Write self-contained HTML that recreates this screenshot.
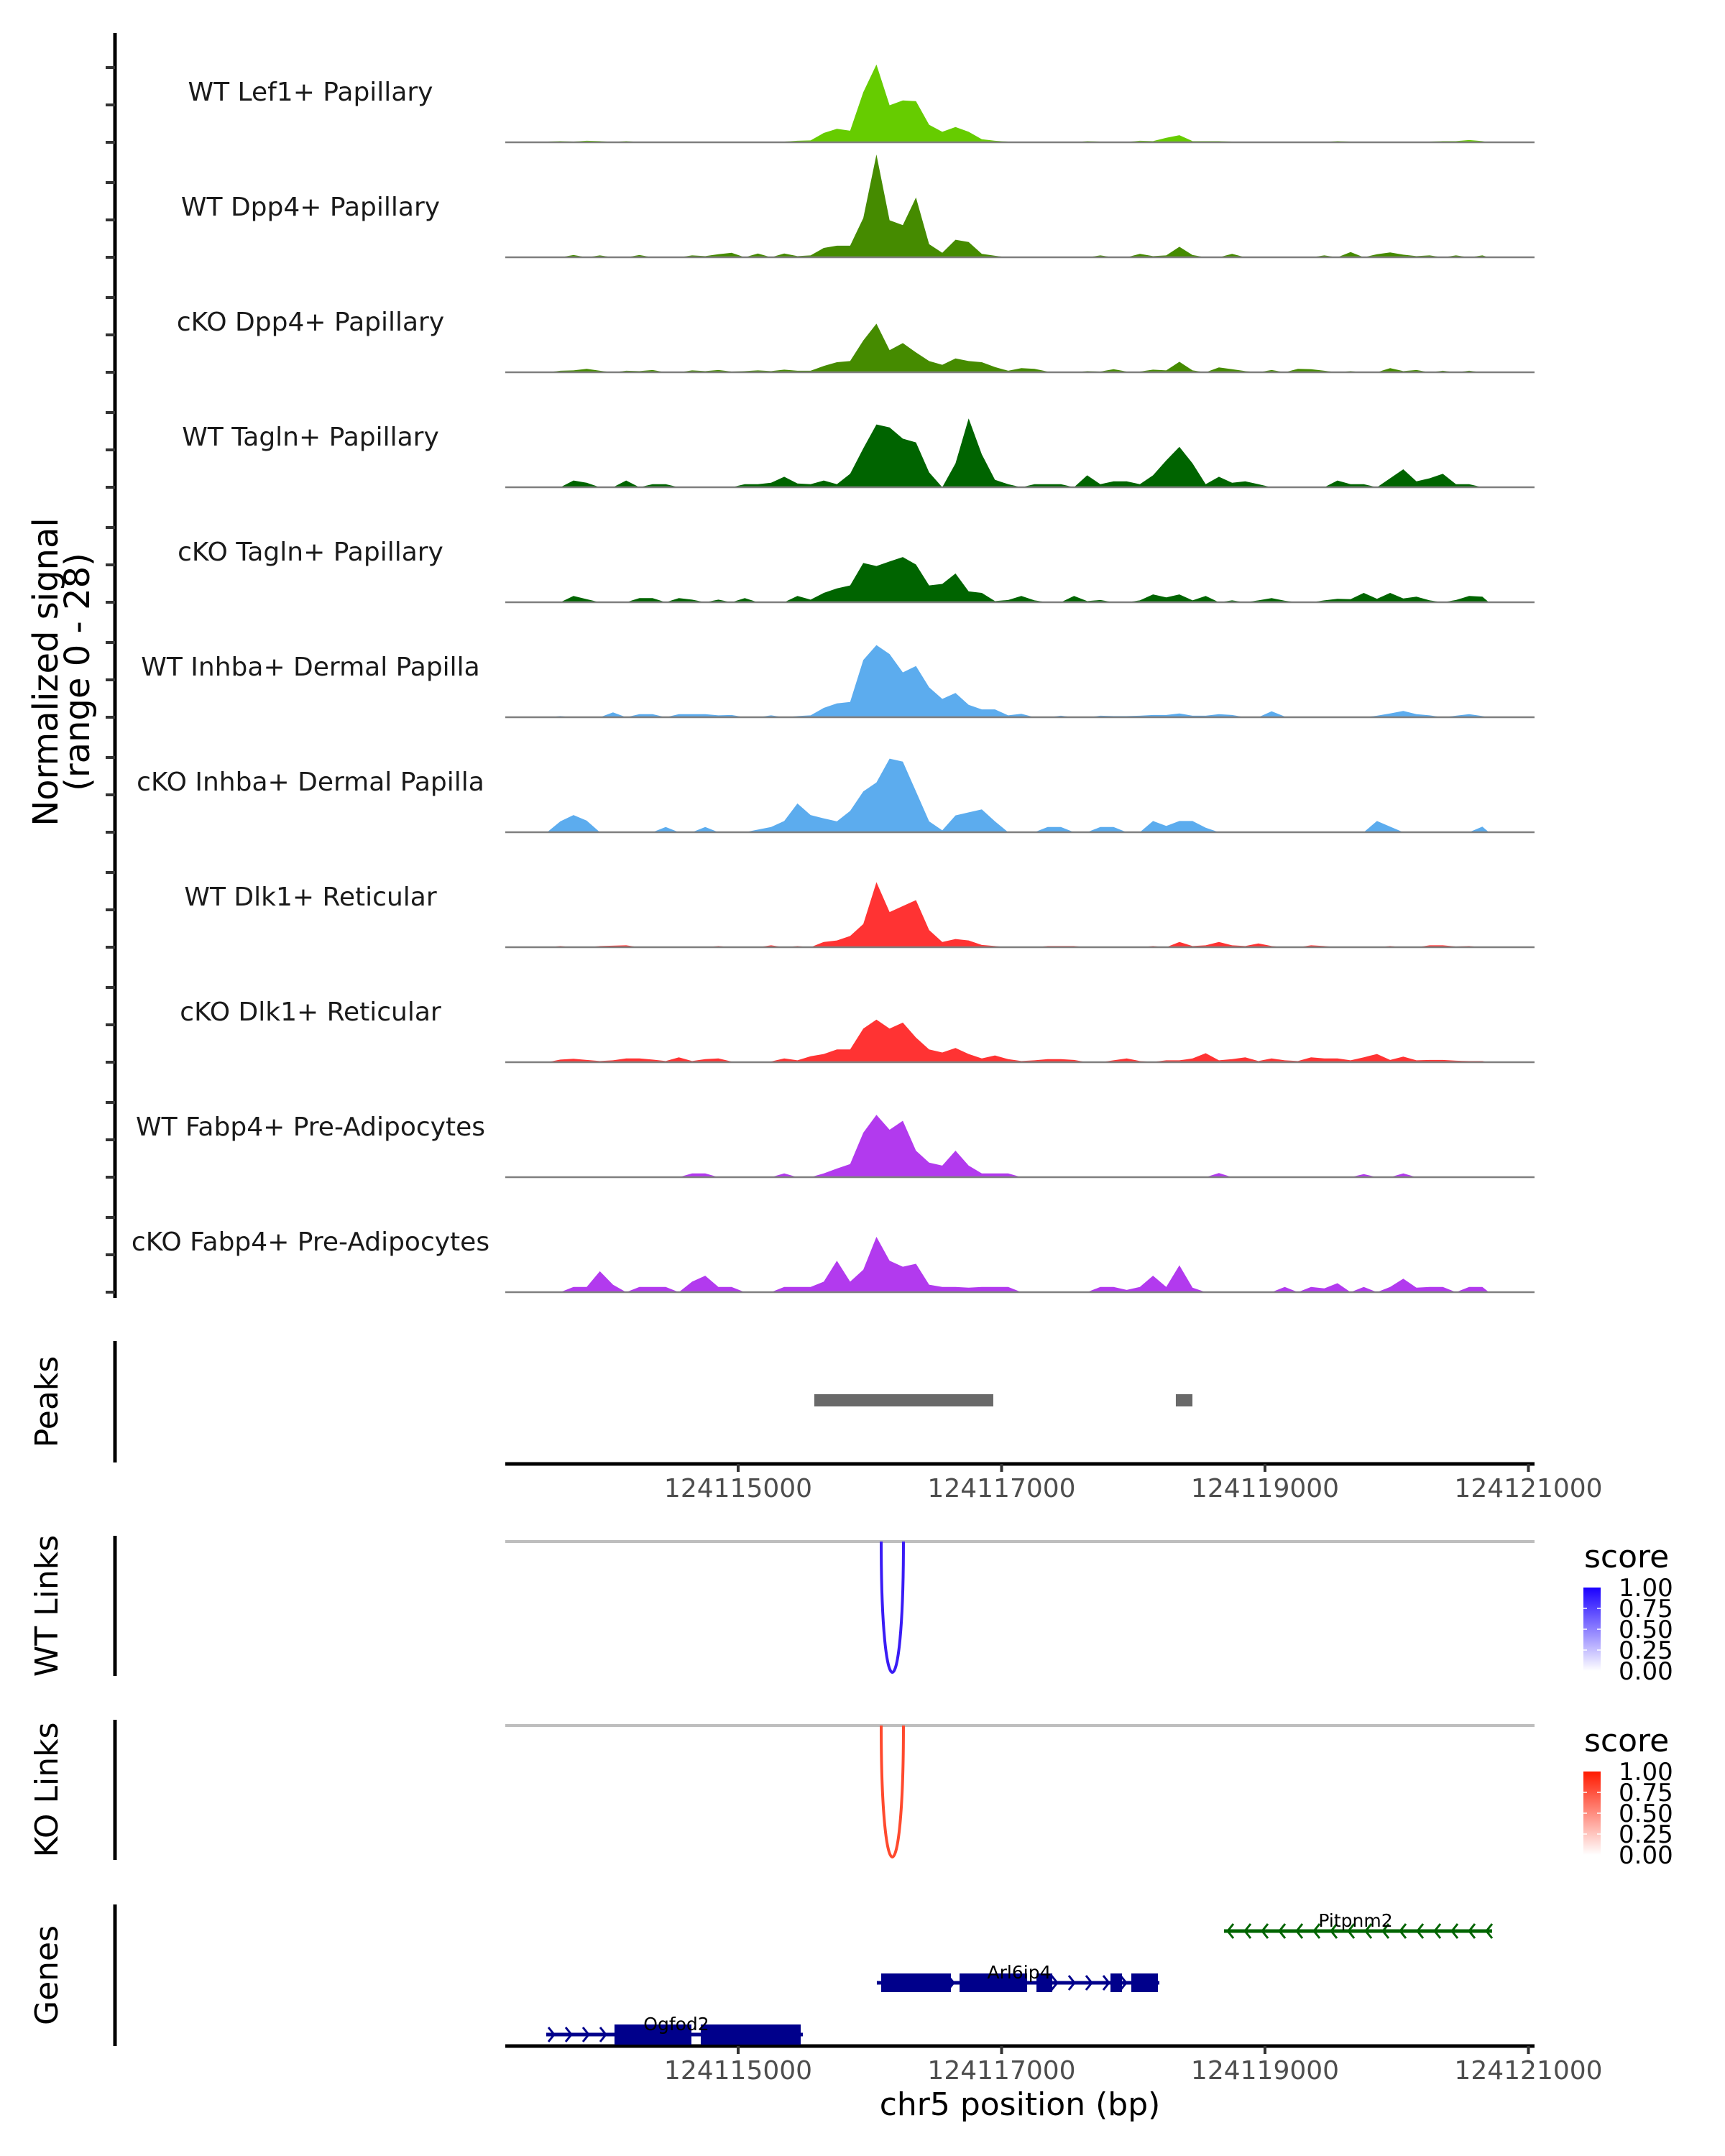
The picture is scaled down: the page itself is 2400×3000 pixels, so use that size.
<!DOCTYPE html>
<html><head><meta charset="utf-8">
<style>
html,body{margin:0;padding:0;background:#fff;}
svg{display:block;font-family:"DejaVu Sans","Liberation Sans",sans-serif;}
</style></head>
<body>
<svg id="chart" width="2400" height="3000" viewBox="0 0 2400 3000" xmlns="http://www.w3.org/2000/svg">
<defs>
<linearGradient id="gradBlue" x1="0" y1="1" x2="0" y2="0"><stop offset="0" stop-color="#ffffff"/><stop offset="1" stop-color="#1a00ff"/></linearGradient>
<linearGradient id="gradRed" x1="0" y1="1" x2="0" y2="0"><stop offset="0" stop-color="#ffffff"/><stop offset="1" stop-color="#ff1a00"/></linearGradient>
</defs>
<g id="tracks"></g>
<g id="other"></g>
</svg>
<script>
// ---- data ----
const binStart = 124113350; // first bin center (bp)
const binStep = 100;
const trackNames = ["WT Lef1+ Papillary","WT Dpp4+ Papillary","cKO Dpp4+ Papillary","WT Tagln+ Papillary","cKO Tagln+ Papillary","WT Inhba+ Dermal Papilla","cKO Inhba+ Dermal Papilla","WT Dlk1+ Reticular","cKO Dlk1+ Reticular","WT Fabp4+ Pre-Adipocytes","cKO Fabp4+ Pre-Adipocytes"];
const trackColors = ["#66cc00","#458b00","#458b00","#006400","#006400","#5cacee","#5cacee","#ff3333","#ff3333","#b23aee","#b23aee"];
const sigLef1WT = [0,0,0.2,0.3,0.2,0.4,0.3,0.1,0.3,0.1, 0.2,0,0,0.1,0.2,0.1,0.1,0.2,0.1,0.1, 0.2,0.4,0.5,2.5,3.6,3.1,13.4,20.8,9.9,11.2, 11,4.7,2.8,4.1,2.8,0.8,0.4,0.2,0.2,0, 0,0.1,0,0.3,0.2,0,0.1,0.4,0.3,1.2, 1.9,0.3,0.3,0.3,0.2,0.2,0.1,0.2,0,0.2, 0.2,0.1,0.3,0.2,0,0.1,0,0.2,0.2,0.2, 0.3,0.3,0.6,0.3];
const sigDpp4WT = [0,0,0,0,0.6,0,0.5,0,0,0.6, 0,0,0,0.5,0.3,0.8,1.2,0,1.0,0, 1.0,0.3,0.5,2.5,3.1,3.1,10.5,27.5,9.9,8.6, 16,3.5,1.2,4.7,4.1,0.9,0.4,0,0,0, 0,0,0,0,0.5,0,0,0.9,0.3,0.5, 2.8,0.6,0,0,0.9,0,0,0,0,0, 0,0.5,0,1.4,0,0.8,1.3,0.7,0.3,0.5, 0,0.5,0,0.5];
const sigDpp4KO = [0,0,0,0.4,0.5,0.9,0.4,0,0.4,0.3, 0.6,0,0,0.5,0.3,0.6,0.2,0.3,0.5,0.3, 0.7,0.4,0.4,1.7,2.7,3,8.5,13,5.9,7.8, 5.3,3,2,3.7,3,2.7,1.4,0.4,1.1,0.9, 0.2,0.2,0,0.3,0.2,0.8,0.2,0.2,0.7,0.5, 2.8,0.5,0,1.3,0.8,0.3,0,0.6,0,0.9, 0.8,0.4,0,0.3,0,0,1.1,0.3,0.6,0, 0.4,0,0.4,0];
const sigTaglnWT = [0,0,0,0,1.8,1.2,0,0,1.8,0, 0.8,0.8,0,0,0,0,0,0.8,0.8,1.2, 2.8,1.0,0.8,1.8,0.8,3.6,10.4,16.8,16,13, 12,4,0,6.4,18.4,8.8,2,0.8,0,0.8, 0.8,0.8,0,3.2,0.8,1.6,1.6,0.8,3.2,7.2, 10.8,6.4,0.8,2.8,1.2,1.6,0.8,0,0,0, 0,0,1.8,0.8,0.8,0,2.4,4.8,1.6,2.4, 3.6,0.8,0.8,0];
const sigTaglnKO = [0,0,0,0,1.7,0.8,0,0,0,1.1, 1.1,0,1.1,0.7,0,0.7,0,1.1,0,0, 0,1.7,0.7,2.5,3.7,4.5,10.5,9.7,10.9,12.1, 10.1,4.5,4.9,7.7,2.9,2.5,0.3,0.6,1.7,0.5, 0,0,1.7,0.3,0.6,0,0,0.5,2.1,1.3, 2.1,0.5,1.7,0,0.5,0,0.5,1.1,0.4,0, 0,0.5,0.9,0.8,2.5,0.9,2.5,1.0,1.5,0.5, 0,0.6,1.7,1.5];
const sigInhbaWT = [0,0,0,0.3,0,0,0,1.3,0,0.8, 0.8,0,0.8,0.8,0.8,0.5,0.6,0,0,0.5, 0,0.3,0.5,2.5,3.7,4.1,15.3,19.3,16.9,12, 13.7,8,4.9,6.5,3.3,2.1,2.1,0.5,0.9,0, 0,0.4,0,0,0.4,0.3,0.3,0.4,0.6,0.6, 1.0,0.4,0.4,0.8,0.6,0,0,1.6,0.2,0, 0,0,0,0,0,0.4,1.0,1.7,0.8,0.5, 0,0.4,0.8,0.3];
const sigInhbaKO = [0,0,0,2.9,4.6,3.1,0,0,0,0, 0,1.4,0,0,1.4,0,0,0,0.7,1.4, 3,7.7,4.6,3.7,2.9,5.7,10.9,13.3,19.7,18.9, 10.9,2.9,0.5,4.5,5.3,6.1,2.9,0,0,0, 1.4,1.4,0,0,1.4,1.4,0,0,3,1.7, 3,3,1.2,0,0,0,0,0,0,0, 0,0,0,0,0,3,1.5,0,0,0, 0,0,0,1.5];
const sigDlk1WT = [0,0,0,0.3,0,0,0.3,0.4,0.5,0, 0,0,0,0,0,0.3,0,0,0,0.5, 0,0.3,0,1.4,1.8,3,6.2,17.4,9.4,11, 12.6,4.6,1.4,2.2,1.8,0.6,0.3,0,0,0, 0.3,0.3,0.3,0,0,0,0,0,0.3,0, 1.4,0.3,0.5,1.4,0.5,0.3,1.0,0.3,0,0, 0.5,0.3,0,0,0,0,0.3,0,0,0.5, 0.5,0.2,0.3,0];
const sigDlk1KO = [0,0,0,0.7,0.9,0.6,0.3,0.5,1.0,1.0, 0.7,0.3,1.3,0.3,0.8,1.0,0.2,0.2,0.1,0.2, 1.0,0.5,1.6,2.2,3.4,3.4,9,11.4,9,10.6, 6.6,3.4,2.6,3.8,2.2,1,1.8,0.8,0.3,0.5, 0.8,0.8,0.6,0,0,0.5,1.0,0.3,0.1,0.5, 0.5,1.0,2.4,0.5,0.8,1.3,0.3,1.0,0.5,0.3, 1.3,1.0,1.0,0.5,1.3,2.2,0.6,1.5,0.5,0.6, 0.6,0.4,0.3,0.3];
const sigFabp4WT = [0,0,0,0,0,0,0,0,0,0, 0,0,0,1.0,1.0,0,0,0,0,0, 1.0,0,0,1.0,2.3,3.5,11.9,16.7,12.7,15.1, 7.1,3.9,3.1,7.1,3.1,1,1,1,0,0, 0,0,0,0,0,0,0,0,0,0, 0,0,0,1.1,0,0,0,0,0,0, 0,0,0,0,0.8,0,0,1.0,0,0, 0,0,0,0];
const sigFabp4KO = [0,0,0,0,1.4,1.4,5.6,2.0,0,1.4, 1.4,1.4,0,2.8,4.4,1.4,1.4,0,0,0, 1.4,1.4,1.4,2.8,8.4,2.8,6,14.8,8.4,6.8, 7.6,2,1.4,1.4,1.2,1.4,1.4,1.4,0,0, 0,0,0,0,1.4,1.4,0.6,1.4,4.4,1.4, 7.2,1.2,0,0,0,0,0,0,1.4,0, 1.4,1.0,2.4,0,1.4,0,1.4,3.6,1.2,1.4, 1.4,0,1.4,1.4];
const allSignals = [sigLef1WT,sigDpp4WT,sigDpp4KO,sigTaglnWT,sigTaglnKO,sigInhbaWT,sigInhbaKO,sigDlk1WT,sigDlk1KO,sigFabp4WT,sigFabp4KO];
const yTicks = [0,10,20];
const xTicks = [124115000,124117000,124119000,124121000];
const peakStarts = [124115578,124118323];
const peakEnds = [124116937,124118449];
const linkStarts = [124116086];
const linkEnds = [124116255];
const legendTicks = ["1.00","0.75","0.50","0.25","0.00"];
const geneNames = ["Ogfod2","Arl6ip4","Pitpnm2"];
const geneStarts = [124113543,124116053,124118689];
const geneEnds = [124115491,124118198,124120724];
const geneStrands = ["+","+","-"];
const geneExons = [[[124114061,124114645],[124114716,124115475]],[[124116086,124116615],[124116681,124117194],[124117265,124117385],[124117827,124117914],[124117985,124118187]],[]];

// ---- scales ----
const X0=703, X1=2135;
function xs(bp){return 1027+(bp-124115000)*0.18325;}
const PX_PER_UNIT=5.2;
function baseY(i){return 198+160*i;}
function ys(i,v){return baseY(i)-v*PX_PER_UNIT;}

const NS="http://www.w3.org/2000/svg";
function mk(tag,attrs,parent,text){const e=document.createElementNS(NS,tag);for(const k in attrs)e.setAttribute(k,attrs[k]);if(text!==undefined)e.textContent=text;parent.appendChild(e);return e;}
const T=document.getElementById('tracks');
const O=document.getElementById('other');

// signal tracks
allSignals.forEach((vals,i)=>{
  const b=baseY(i);
  const ax=mk('line',{x1:160,x2:160,y1:b-152,y2:b+8,stroke:'#000','stroke-width':5},T);
  
  
  yTicks.forEach(t=>{
    const tk=mk('line',{x1:147,x2:160,y1:ys(i,t),y2:ys(i,t),stroke:'#333','stroke-width':4},T);
    
    
  });
  let d='M'+xs(binStart-binStep/2)+','+b;
  vals.forEach((v,k)=>{d+=' L'+xs(binStart+k*binStep).toFixed(1)+','+ys(i,v).toFixed(1);});
  d+=' L'+xs(binStart+(vals.length-0.5)*binStep)+','+b+' Z';
  const p=mk('path',{d:d,fill:trackColors[i]},T);
  
  
  const bl=mk('line',{x1:X0,x2:X1,y1:b,y2:b,stroke:'#7f7f7f','stroke-width':2.5},T);
  
  
  const lb=mk('text',{x:432,y:b-58,'text-anchor':'middle','font-size':36,fill:'#1a1a1a'},T,trackNames[i]);
  
  
});

// y title
const yt=mk('text',{transform:'translate(80,935) rotate(-90)','text-anchor':'middle','font-size':48,fill:'#000'},O,'Normalized signal');


const yt2=mk('text',{transform:'translate(124,935) rotate(-90)','text-anchor':'middle','font-size':48,fill:'#000'},O,'(range 0 - 28)');



// side panels
function sidePanel(label,y1,y2,name){
  const l=mk('line',{x1:160,x2:160,y1:y1,y2:y2,stroke:'#000','stroke-width':5},O);
  
  
  const t=mk('text',{transform:'translate(80,'+((y1+y2)/2)+') rotate(-90)','text-anchor':'middle','font-size':44,fill:'#000'},O,label);
  
  
}
sidePanel('Peaks',1866,2035,'peaks');
sidePanel('WT Links',2137,2332,'wt-links');
sidePanel('KO Links',2393,2588,'ko-links');
sidePanel('Genes',2650,2847,'genes');

// peaks
peakStarts.forEach((s,i)=>{
  const r=mk('rect',{x:xs(s),y:1940,width:xs(peakEnds[i])-xs(s),height:17,fill:'#696969'},O);
  
  
});

// x axes
function xAxis(y,name){
  const l=mk('line',{x1:X0,x2:X1,y1:y,y2:y,stroke:'#000','stroke-width':5},O);
  
  
  xTicks.forEach(t=>{
    const tk=mk('line',{x1:xs(t),x2:xs(t),y1:y,y2:y+11,stroke:'#333','stroke-width':4},O);
    
    
    const tl=mk('text',{x:xs(t),y:y+46,'text-anchor':'middle','font-size':36,fill:'#4d4d4d'},O,String(t));
    
    
  });
}
xAxis(2037,'peaks-x-axis');
xAxis(2847,'x-axis');
const xt=mk('text',{x:1419,y:2943,'text-anchor':'middle','font-size':44,fill:'#000'},O,'chr5 position (bp)');



// links
function linkPanel(lineY,bottomY,color,name){
  const g=mk('line',{x1:X0,x2:X1,y1:lineY,y2:lineY,stroke:'#bebebe','stroke-width':4},O);
  
  
  linkStarts.forEach((s,i)=>{
    const a=xs(s),b=xs(linkEnds[i]);
    const cy=lineY+(bottomY-lineY)/0.75;
    const p=mk('path',{d:'M'+a+','+lineY+' C'+a+','+cy+' '+b+','+cy+' '+b+','+lineY,fill:'none',stroke:color,'stroke-width':4},O);
    
    
  });
}
linkPanel(2145,2327,'#3a1cf5','wt-link');
linkPanel(2401,2584,'#ff4a2e','ko-link');

// legends
function legend(top,grad,name){
  const t=mk('text',{x:2204,y:top-28,'font-size':44,fill:'#000'},O,'score');
  
  
  const r=mk('rect',{x:2203,y:top,width:24,height:116,fill:'url(#'+grad+')'},O);
  
  
  legendTicks.forEach((lab,i)=>{
    const y=top+i*29;
    if(i>0&&i<4){
      const w=mk('line',{x1:2203,x2:2208,y1:y,y2:y,stroke:'#fff','stroke-width':1.5},O);
      
      
      const w2=mk('line',{x1:2222,x2:2227,y1:y,y2:y,stroke:'#fff','stroke-width':1.5},O);
      
      
    }
    const tl=mk('text',{x:2252,y:y+12,'font-size':34,fill:'#000'},O,lab);
    
    
  });
}
legend(2209,'gradBlue','wt-legend');
legend(2465,'gradRed','ko-legend');

// genes
const geneRowY=[2831,2759,2687];
const geneColors=['#00008b','#00008b','#006400'];
const exonH=[28,26,0];
geneNames.forEach((n,i)=>{
  const y=geneRowY[i], c=geneColors[i];
  const a=xs(geneStarts[i]), b=xs(geneEnds[i]);
  const ln=mk('line',{x1:a,x2:b,y1:y,y2:y,stroke:c,'stroke-width':5},O);
  
  
  const ex=geneExons[i];
  for(let x=a+8;x<=b-4;x+=24){
    const bp=124115000+(x-1027)/0.18325;
    if(ex.some(e=>bp>=e[0]&&bp<=e[1]))continue;
    const dir=geneStrands[i]==='+'?1:-1;
    const ch=mk('path',{d:'M'+(x-5*dir)+','+(y-10)+' L'+(x+3*dir)+','+y+' L'+(x-5*dir)+','+(y+10),fill:'none',stroke:c,'stroke-width':3},O);
    
    
  }
  ex.forEach(e=>{
    const r=mk('rect',{x:xs(e[0]),y:y-exonH[i]/2,width:xs(e[1])-xs(e[0]),height:exonH[i],fill:c},O);
    
    
  });
  const cx=(i===0)?941:(i===1)?1418:1886;
  const t=mk('text',{x:cx,y:y-6,'text-anchor':'middle','font-size':25,fill:'#000'},O,n);
  
  
});
</script>
</body></html>
